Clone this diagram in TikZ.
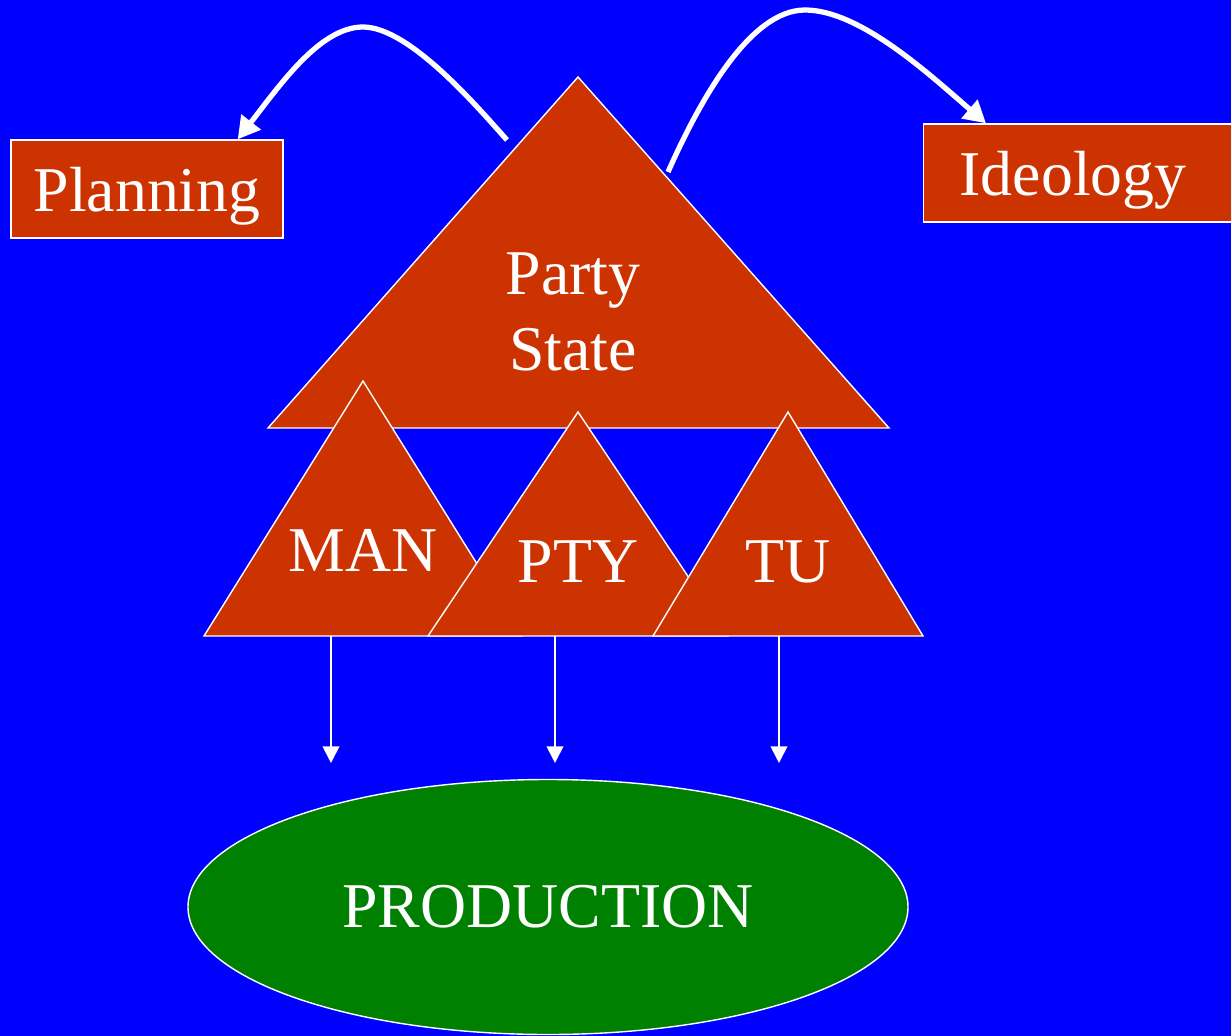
\documentclass[tikz,border=0pt]{standalone}
\usepackage{fontspec}
\setmainfont{Liberation Serif}
\usepackage{xcolor}
\usepackage{tikz}
\usetikzlibrary{arrows.meta,shapes.geometric}
\definecolor{slideblue}{RGB}{0,0,255}
\definecolor{brick}{RGB}{204,51,0}
\definecolor{cropgreen}{RGB}{0,128,0}
\tikzset{
   slide/.style={x=0.2mm,
   y=-0.2mm,
   line join=miter,
   every node/.style={text=white,font=\fontsize{36.3}{43}\selectfont}},
 box/.style={rectangle,draw=white,fill=brick,line width=0.8pt,inner sep=0pt,text depth=0pt},
 pyramid/.style={draw=white,fill=brick,line width=0.8pt},
 field/.style={ellipse,draw=white,fill=cropgreen,line width=0.8pt,inner sep=0pt},
 swoop/.style={->,>={Triangle[length=12.5pt,width=13.5pt]},draw=white,line width=3pt},
 drop/.style={->,>={Triangle[length=9.5pt,width=9.5pt]},draw=white,line width=1pt}
 }

\begin{document}
\begin{tikzpicture}[slide]
      \useasboundingbox (0,0) rectangle (1231,1036);
      \clip (0,0) rectangle (1231,1036);
      \fill[slideblue] (0,0) rectangle (1231,1036);
      \node[box,minimum width=54.4mm,minimum height=19.6mm] (plan) at (147,189) {Planning};
      \node[box,anchor=west,minimum height=19.6mm,text width=70mm,align=left,inner xsep=7.2mm] (ideo) at (923,173) {Ideology};
      \coordinate (party top) at (578,77);
      \coordinate (party left) at (268,428);
      \coordinate (party right) at (889,428);
      \filldraw[pyramid] (party top) -- (party left) -- (party right) -- cycle;
      \foreach \n/\x/\y/\w in {man/363/381/159,pty/578/412/150,tu/788/412/135}
      { \coordinate (\n top) at (\x,\y);
        \filldraw[pyramid] (\n top) -- (\x-\w,636) -- (\x+\w,636) -- cycle; }
      \node[align=center] (party) at (573,312) {Party\\State};
      \node (man) at (363,550) {MAN};
      \node (pty) at (578,562) {PTY};
      \node (tu) at (788,562) {TU};
      \node[field,minimum width=144mm,minimum height=51mm] (prod) at (548,907) {PRODUCTION};
      \coordinate (swoop left) at (507,140);
      \coordinate (swoop right) at (668,172);
      \draw[swoop] (swoop left) .. controls (480,110) and (410,27) .. (363,27)
        .. controls (320,27) and (280,85) .. ([xshift=-9.2mm]plan.north east);
      \draw[swoop] (swoop right) .. controls (700,100) and (750,10) .. (805,10)
        .. controls (860,10) and (930,75) .. ([xshift=12.6mm]ideo.north west);
      \foreach \n/\x in {man/331,pty/555,tu/779}
      { \coordinate (\n out) at (\x,636);
        \coordinate (\n in) at (\x,763);
        \draw[drop] (\n out) -- (\n in); }
    \end{tikzpicture}
\end{document}
